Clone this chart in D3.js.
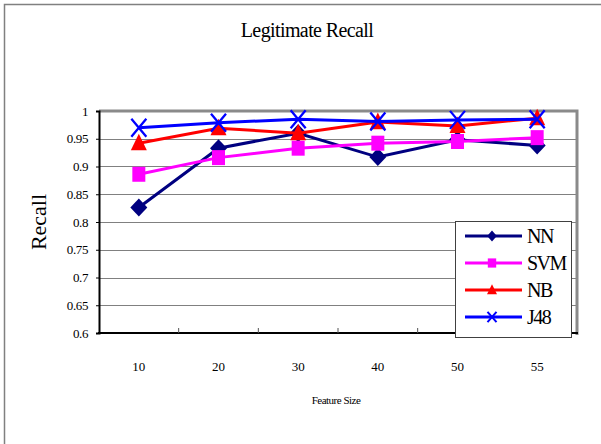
<!DOCTYPE html>
<html>
<head>
<meta charset="utf-8">
<script src="https://cdn.jsdelivr.net/npm/d3@7"></script>
<style>
  html, body { margin: 0; padding: 0; background: #fff; }
  svg { display: block; }
  text { font-family: "Liberation Serif", "Times New Roman", serif; fill: #000; }
</style>
</head>
<body>
<svg id="chart" width="601" height="444"></svg>
<script>
// Feature sizes on the x axis
const featureSizes = ["10", "20", "30", "40", "50", "55"];

// Legitimate recall per classifier
const nnValues  = [0.826, 0.933, 0.960, 0.917, 0.948, 0.938];
const svmValues = [0.886, 0.916, 0.933, 0.942, 0.945, 0.952];
const nbValues  = [0.942, 0.969, 0.960, 0.980, 0.973, 0.987];
const j48Values = [0.970, 0.979, 0.985, 0.981, 0.984, 0.985];

const seriesNames = ["NN", "SVM", "NB", "J48"];
const yTicks = [0.6, 0.65, 0.7, 0.75, 0.8, 0.85, 0.9, 0.95, 1];

const series = [
  { name: "NN",  values: nnValues,  color: "#000080", marker: "diamond" },
  { name: "SVM", values: svmValues, color: "#FF00FF", marker: "square" },
  { name: "NB",  values: nbValues,  color: "#FF0000", marker: "triangle" },
  { name: "J48", values: j48Values, color: "#0000FF", marker: "cross" }
];

const SERIF = "'Liberation Serif', 'Times New Roman', serif";
const svg = d3.select("#chart");

// Outer chart frame
svg.append("rect")
  .attr("x", 4.5).attr("y", 4.5)
  .attr("width", 620).attr("height", 460)
  .attr("fill", "#fff").attr("stroke", "#808080").attr("stroke-width", 1.5);

const plot = { left: 99, top: 111, right: 577, bottom: 333 };

const x = d3.scaleBand().domain(featureSizes).range([plot.left, plot.right]);
const y = d3.scaleLinear().domain([0.6, 1]).range([plot.bottom, plot.top]);

// Plot area background
svg.append("rect")
  .attr("x", plot.left).attr("y", plot.top)
  .attr("width", plot.right - plot.left).attr("height", plot.bottom - plot.top)
  .attr("fill", "#fff");

// Horizontal gridlines
svg.append("g")
  .selectAll("line")
  .data(yTicks.filter(t => t > 0.6 && t < 1))
  .join("line")
  .attr("x1", plot.left).attr("x2", plot.right)
  .attr("y1", d => Math.round(y(d)) + 0.5).attr("y2", d => Math.round(y(d)) + 0.5)
  .attr("stroke", "#808080").attr("stroke-width", 1);

// Shaded top and right edges of the plot area
svg.append("path")
  .attr("d", `M${plot.left},${plot.top} H${plot.right} V${plot.bottom + 2}`)
  .attr("fill", "none").attr("stroke", "#8a8a8a").attr("stroke-width", 3);

// Y axis
const yAxis = svg.append("g")
  .attr("transform", `translate(${plot.left},0)`)
  .call(d3.axisLeft(y).tickValues(yTicks).tickSize(3).tickPadding(8)
    .tickFormat(d => d === 1 ? "1" : String(+d.toFixed(2))));
yAxis.attr("font-family", SERIF).attr("font-size", 13);
yAxis.select(".domain").attr("stroke", "#000").attr("stroke-width", 2);
yAxis.selectAll(".tick line").attr("stroke", "#000");
yAxis.selectAll(".tick text")
  .style("font-family", SERIF)
  .style("font-size", "13px").attr("letter-spacing", "-0.4");

// X axis, ticks pointing inward between categories
const xAxisG = svg.append("g").attr("transform", `translate(0,${plot.bottom})`);
xAxisG.append("line")
  .attr("x1", plot.left - 1).attr("x2", plot.right + 1)
  .attr("y1", 0).attr("y2", 0)
  .attr("stroke", "#000").attr("stroke-width", 2);
xAxisG.selectAll("line.tk")
  .data(featureSizes.slice(1))
  .join("line").attr("class", "tk")
  .attr("x1", d => x(d)).attr("x2", d => x(d))
  .attr("y1", 0).attr("y2", -5)
  .attr("stroke", "#555").attr("stroke-width", 1);
xAxisG.selectAll("text")
  .data(featureSizes)
  .join("text")
  .attr("x", d => x(d) + x.bandwidth() / 2)
  .attr("y", 38)
  .attr("text-anchor", "middle")
  .style("font-family", SERIF)
  .style("font-size", "13px")
  .text(d => d);

// Lines and markers
const line = d3.line()
  .x((d, i) => x(featureSizes[i]) + x.bandwidth() / 2)
  .y(d => y(d));

// Marker outlines; w and h are half-width and half-height
function markerPath(kind, w, h) {
  switch (kind) {
    case "diamond":  return `M0,${-h}L${w},0L0,${h}L${-w},0Z`;
    case "square":   return `M${-w},${-h}H${w}V${h}H${-w}Z`;
    case "triangle": return `M0,${-h}L${w},${h * 0.75}L${-w},${h * 0.75}Z`;
    default:         return `M${-w},${-h}L${w},${h}M${-w},${h}L${w},${-h}`;
  }
}

const plotMarkerSize = {
  diamond: [8.5, 9], square: [6.5, 7.5], triangle: [8, 9.5], cross: [7.5, 9]
};
const legendMarkerSize = {
  diamond: [4.8, 5.5], square: [4.2, 4.6], triangle: [5, 5.8], cross: [4.5, 5.2]
};

function drawMarker(g, s, sizes, crossWidth) {
  const [w, h] = sizes[s.marker];
  const p = g.append("path").attr("d", markerPath(s.marker, w, h));
  if (s.marker === "cross") {
    p.attr("fill", "none").attr("stroke", s.color).attr("stroke-width", crossWidth);
  } else {
    p.attr("fill", s.color).attr("stroke", "none");
  }
}

series.forEach(s => {
  const g = svg.append("g");
  g.append("path")
    .datum(s.values)
    .attr("d", line)
    .attr("fill", "none")
    .attr("stroke", s.color)
    .attr("stroke-width", 3);
  s.values.forEach((v, i) => {
    const mg = g.append("g")
      .attr("transform", `translate(${x(featureSizes[i]) + x.bandwidth() / 2},${y(v)})`);
    drawMarker(mg, s, plotMarkerSize, 2.3);
  });
});

// Legend
const legend = svg.append("g");
legend.append("rect")
  .attr("x", 455.5).attr("y", 221.5)
  .attr("width", 116).attr("height", 116)
  .attr("fill", "#fff").attr("stroke", "#404040").attr("stroke-width", 1);

seriesNames.forEach((name, i) => {
  const s = series.find(d => d.name === name);
  const cy = 236 + i * 27;
  const row = legend.append("g");
  row.append("line")
    .attr("x1", 465).attr("x2", 522)
    .attr("y1", cy).attr("y2", cy)
    .attr("stroke", s.color).attr("stroke-width", 3);
  const mg = row.append("g").attr("transform", `translate(492,${cy})`);
  drawMarker(mg, s, legendMarkerSize, 2);
  row.append("text")
    .attr("x", 527).attr("y", cy + 7)
    .style("font-size", "20px")
    .attr("letter-spacing", "-1.5")
    .text(name);
});

// Title and axis titles
svg.append("text")
  .attr("x", 307).attr("y", 37)
  .attr("text-anchor", "middle")
  .style("font-size", "20px")
  .attr("letter-spacing", "-0.6")
  .text("Legitimate Recall");

svg.append("text")
  .attr("transform", "translate(46,222) rotate(-90)")
  .attr("text-anchor", "middle")
  .style("font-size", "22px")
  .text("Recall");

svg.append("text")
  .attr("x", 336).attr("y", 404)
  .attr("text-anchor", "middle")
  .style("font-size", "11px")
  .attr("letter-spacing", "-0.5")
  .text("Feature Size");
</script>
</body>
</html>
